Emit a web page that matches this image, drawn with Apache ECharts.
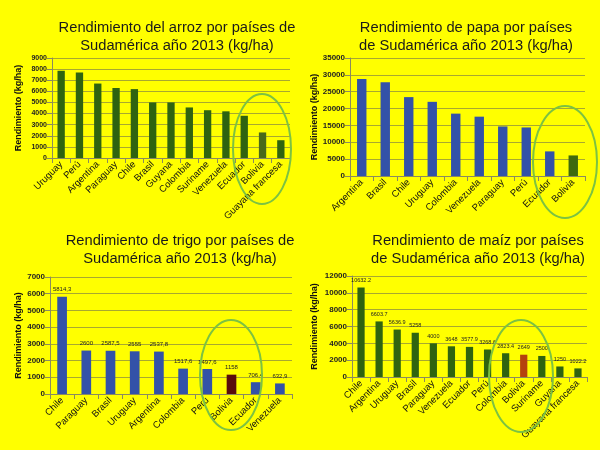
<!DOCTYPE html>
<html><head><meta charset="utf-8">
<script src="https://cdn.jsdelivr.net/npm/echarts@6/dist/echarts.min.js"></script>
<style>html,body{margin:0;padding:0;background:#ffff00}#c{width:600px;height:450px}</style>
</head><body><div id="c"></div>
<script>
const arrozPaises = ['Uruguay','Perú','Argentina','Paraguay','Chile','Brasil','Guyana','Colombia','Suriname','Venezuela','Ecuador','Bolivia','Guayana francesa'];
const arrozValores = [7850,7700,6700,6300,6200,5000,5000,4550,4300,4200,3800,2300,1600];
const papaPaises = ['Argentina','Brasil','Chile','Uruguay','Colombia','Venezuela','Paraguay','Perú','Ecuador','Bolivia'];
const papaValores = [28800,27800,23400,22000,18500,17600,14700,14400,7300,6100];
const trigoPaises = ['Chile','Paraguay','Brasil','Uruguay','Argentina','Colombia','Perú','Bolivia','Ecuador','Venezuela'];
const trigoValores = [5814.3,2600,2587.5,2555,2537.8,1517.6,1497.6,1158,706.4,632.9];
const maizPaises = ['Chile','Argentina','Uruguay','Brasil','Paraguay','Venezuela','Ecuador','Perú','Colombia','Bolivia','Suriname','Guyana','Guayana francesa'];
const maizValores = [10632.2,6603.7,5636.9,5258,4000,3648,3577.9,3268.6,2823.4,2649,2500,1250,1022.2];
const titulos = [
  'Rendimiento del arroz por países de\nSudamérica año 2013 (kg/ha)',
  'Rendimiento de papa por países\nde Sudamérica año 2013 (kg/ha)',
  'Rendimiento de trigo por países de\nSudamérica año 2013 (kg/ha)',
  'Rendimiento de maíz por países\nde Sudamérica año 2013 (kg/ha)'
];
const ejeY = 'Rendimiento (kg/ha)';

const FONT = 'Liberation Sans';
const grids = [
  {left:52, top:58, width:238, height:100},
  {left:350, top:58, width:235, height:118},
  {left:50, top:277, width:242, height:117},
  {left:352, top:276, width:235, height:101}
];
const yCfg = [
  {max:9000, interval:1000, fs:7, gap:29},
  {max:35000, interval:5000, fs:8, gap:31},
  {max:7000, interval:1000, fs:8, gap:25},
  {max:12000, interval:2000, fs:8, gap:33}
];
const cats = [arrozPaises, papaPaises, trigoPaises, maizPaises];
const vals = [arrozValores, papaValores, trigoValores, maizValores];
const baseColor = ['#2f6410', '#3352a8', '#3352a8', '#2f6410'];
const boliviaColor = ['#4a6a1a', '#3f6a0e', '#5a0c0c', '#b5420e'];
const labelFmt = [null, null, v => String(v).replace('.', ','), v => String(v)];
const labelSize = [0, 0, 6, 5.5];

const titleCenters = [[177,19],[466,19],[180,232],[478,232]];

const option = {
  backgroundColor: '#ffff00',
  animation: false,
  title: titulos.map((t,i) => ({
    text: t, left: titleCenters[i][0], top: titleCenters[i][1], textAlign: 'center', padding: 0,
    textStyle: {fontFamily: FONT, fontSize: 14.7, fontWeight: 'normal', color: '#1a1a1a', lineHeight: 18}
  })),
  grid: grids,
  xAxis: cats.map((c,i) => ({
    type: 'category', gridIndex: i, data: c,
    axisLine: {lineStyle: {color: '#8a8a60'}},
    axisTick: {show: true, lineStyle: {color: '#8a8a60'}},
    axisLabel: {rotate: 45, interval: 0, fontFamily: FONT, fontSize: 9.5, color: '#111', margin: 5}
  })),
  yAxis: yCfg.map((y,i) => ({
    type: 'value', gridIndex: i, min: 0, max: y.max, interval: y.interval,
    name: ejeY, nameLocation: 'middle', nameGap: y.gap, nameRotate: 90,
    nameTextStyle: {fontFamily: FONT, fontSize: 9, fontWeight: 'bold', color: '#111'},
    axisLine: {show: true, lineStyle: {color: '#8a8a60'}},
    axisTick: {show: true, lineStyle: {color: '#8a8a60'}},
    axisLabel: {fontFamily: FONT, fontSize: y.fs, fontWeight: 'bold', color: '#222', margin: 5,
      formatter: v => String(v)},
    splitLine: {lineStyle: {color: '#a8a830', width: 1}}
  })),
  series: vals.map((v,i) => ({
    type: 'bar', xAxisIndex: i, yAxisIndex: i, data: v, barCategoryGap: '60%',
    itemStyle: {color: p => cats[i][p.dataIndex] === 'Bolivia' ? boliviaColor[i] : baseColor[i]},
    label: labelFmt[i] ? {show: true, position: 'top', fontFamily: FONT, fontSize: labelSize[i], color: '#222', distance: 4,
      formatter: p => labelFmt[i](p.value)} : {show: false}
  })),
  graphic: [
    [262,149,29,55],[565,162,32,56],[231,375,31,55],[521,376,32,56]
  ].map(e => ({
    type: 'ellipse', shape: {cx: e[0], cy: e[1], rx: e[2], ry: e[3]},
    style: {fill: 'none', stroke: '#7cc242', lineWidth: 2}, z: 100
  }))
};
const chart = echarts.init(document.getElementById('c'));
chart.setOption(option);
</script></body></html>
